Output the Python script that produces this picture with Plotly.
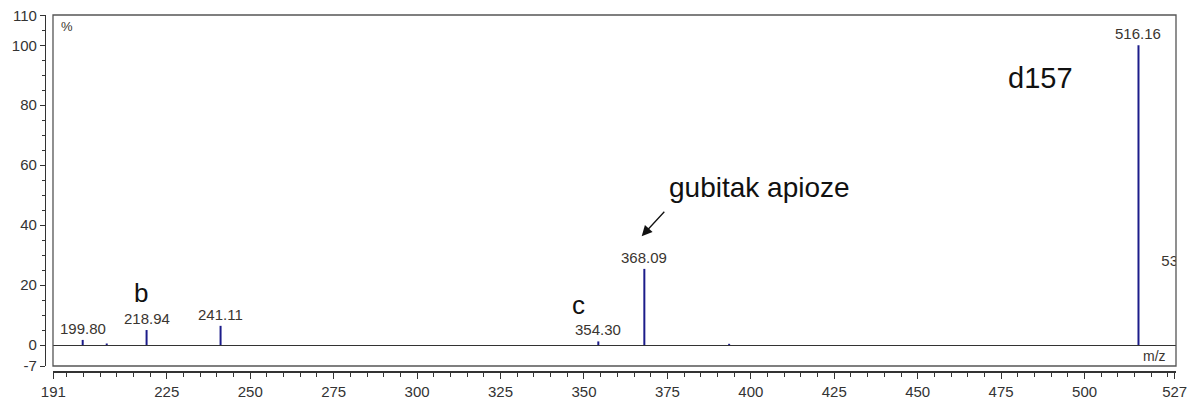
import plotly.graph_objects as go

# ---- data ----
mz = [199.80, 207.0, 218.94, 241.11, 354.30, 368.09, 393.5, 516.16]
intensity = [1.7, 0.5, 5.0, 6.4, 1.2, 25.4, 0.4, 100.0]
peak_labels = ["199.80", "", "218.94", "241.11", "354.30", "368.09", "", "516.16"]
x_ticks = [191, 225, 250, 275, 300, 325, 350, 375, 400, 425, 450, 475, 500, 527]
y_ticks = [-7, 0, 20, 40, 60, 80, 100, 110]
y_tick_text = ["-7", "0", "20", "40", "60", "80", "100", "110"]

FONT = "Liberation Sans, Arial, sans-serif"
STICK = "#1c1c8a"
LABEL = "#3a3530"

xs, ys = [], []
for m, v in zip(mz, intensity):
    xs += [m, m, None]
    ys += [0, v, None]

fig = go.Figure()
fig.add_trace(go.Scatter(x=xs, y=ys, mode="lines",
                         line=dict(color=STICK, width=2), hoverinfo="skip",
                         showlegend=False))
# partially visible label of an off-range peak (clipped at the frame)
fig.add_trace(go.Scatter(x=[523.0], y=[27.5], mode="text", text=["53"],
                         textposition="middle right", cliponaxis=True,
                         textfont=dict(family=FONT, size=15, color=LABEL),
                         hoverinfo="skip", showlegend=False))

annotations = []
for m, v, t in zip(mz, intensity, peak_labels):
    if t:
        annotations.append(dict(x=m, y=v, text=t, showarrow=False,
                                yanchor="bottom", yshift=1,
                                font=dict(family=FONT, size=15, color=LABEL)))

big = dict(family=FONT, size=26, color="#111")
annotations += [
    dict(x=217.2, y=17.3, text="b", showarrow=False, font=big),
    dict(x=348.5, y=13.3, text="c", showarrow=False, font=big),
    dict(x=402.6, y=52.7, text="gubitak apioze", showarrow=False,
         font=dict(family=FONT, size=28, color="#111")),
    dict(x=486.7, y=89, text="d157", showarrow=False,
         font=dict(family=FONT, size=29, color="#111")),
    dict(x=367.3, y=36.3, ax=24, ay=-26, text="", showarrow=True,
         arrowhead=2, arrowsize=1.6, arrowwidth=1.3, arrowcolor="#111"),
    dict(xref="x domain", yref="y domain", x=0.005, y=0.993, text="%",
         showarrow=False, xanchor="left", yanchor="top",
         font=dict(family=FONT, size=13, color=LABEL)),
    dict(xref="x domain", yref="y", x=0.993, y=-3.5, text="m/z",
         showarrow=False, xanchor="right",
         font=dict(family=FONT, size=14, color=LABEL)),
]

fig.update_layout(
    width=1190, height=393,
    margin=dict(l=37, r=22, t=7, b=29),
    paper_bgcolor="white", plot_bgcolor="white",
    font=dict(family=FONT, size=15, color="#333"),
    annotations=annotations,
    shapes=[dict(type="rect", xref="x domain", yref="y domain",
                 x0=0, x1=1, y0=0, y1=1,
                 line=dict(color="#555", width=1.3))],
    xaxis=dict(domain=[0.00707, 1], range=[190.9, 527.4],
               anchor="free", position=0, automargin=False,
               showline=True, linecolor="#333", linewidth=1.5,
               showgrid=False, zeroline=False,
               tickmode="array", tickvals=x_ticks,
               ticks="outside", ticklen=6, tickcolor="#333", tickwidth=1,
               tickfont=dict(size=15, color="#333"),
               ticklabeloverflow="allow",
               minor=dict(tickmode="array",
                          tickvals=[v for v in range(195, 527, 5) if v not in x_ticks],
                          ticks="outside", ticklen=4, tickcolor="#333"),
               fixedrange=True),
    yaxis=dict(domain=[0.0168, 1], range=[-7, 110.1],
               anchor="free", position=0, automargin=False,
               showline=True, linecolor="#333", linewidth=1.3,
               showgrid=False,
               zeroline=True, zerolinecolor="#333", zerolinewidth=1,
               tickmode="array", tickvals=y_ticks, ticktext=y_tick_text,
               ticks="outside", ticklen=5, tickcolor="#333",
               tickfont=dict(size=15, color="#333"),
               ticklabeloverflow="allow",
               minor=dict(tickmode="array",
                          tickvals=[v for v in range(5, 110, 5) if v not in y_ticks],
                          ticks="outside", ticklen=3, tickcolor="#333"),
               fixedrange=True),
)

fig.write_html("out.html")
